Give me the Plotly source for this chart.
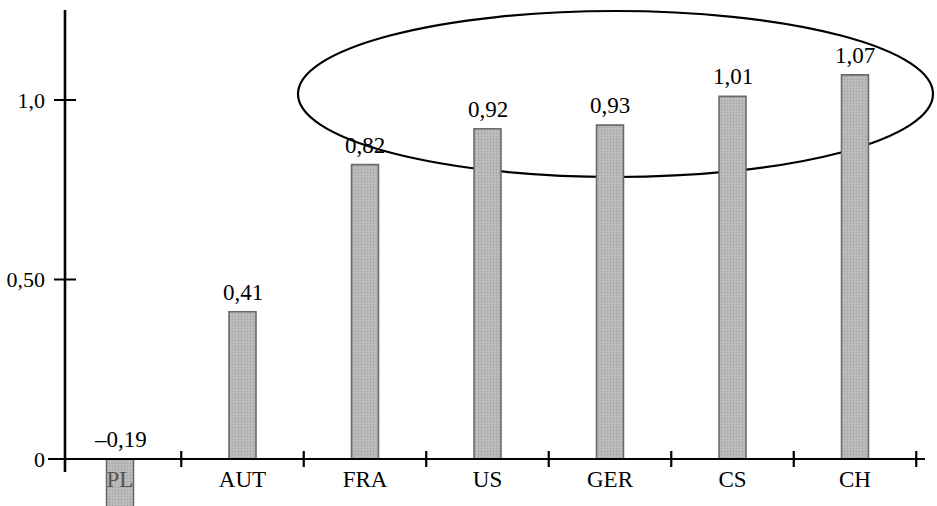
import plotly.graph_objects as go

categories = ["PL", "AUT", "FRA", "US", "GER", "CS", "CH"]
values = [-0.19, 0.41, 0.82, 0.92, 0.93, 1.01, 1.07]
y_tick_vals = [0, 0.5, 1.0]
y_tick_text = ["0", "0,50", "1,0"]

W, H = 937, 506
# layout geometry (pixels)
cx0, step = 120.0, 122.5          # centre of first category, category pitch
y0_px, unit_px = 459.0, 359.0     # pixel of value 0, pixels per unit
yaxis_px = 65.0

x_range = [-cx0 / step, (W - cx0) / step]
y_range = [-(H - y0_px) / unit_px, y0_px / unit_px]
xpos_y = yaxis_px / W
ypos_x = -y_range[0] / (y_range[1] - y_range[0])

FONT = "Liberation Serif, Times New Roman, serif"
idx = list(range(len(categories)))

fig = go.Figure()
fig.add_trace(go.Bar(
    x=idx, y=values, width=0.22,
    marker=dict(
        color="#b8b8b8",
        line=dict(color="#6a6a6a", width=1.6),
        pattern=dict(shape=".", fgcolor="#888888", bgcolor="#c0c0c0", size=3, solidity=0.35),
    ),
    hoverinfo="skip",
))

def fmt(v):
    s = f"{abs(v):.2f}".replace(".", ",")
    return ("–" + s) if v < 0 else s

annotations = []
for i, v in zip(idx, values):
    annotations.append(dict(
        x=i, y=max(v, 0), xref="x", yref="y", text=fmt(v), showarrow=False,
        yanchor="bottom", yshift=5, font=dict(family=FONT, size=23, color="black"),
    ))

tick_text = [
    (f'<span style="color:#555555">{c}</span>' if v < 0 else c)
    for c, v in zip(categories, values)
]

shapes = []
# x axis line
shapes.append(dict(type="line", xref="paper", yref="y", x0=48 / W, x1=925 / W, y0=0, y1=0,
                   line=dict(color="black", width=2.2), layer="above"))
# y axis line
shapes.append(dict(type="line", xref="paper", yref="y", x0=xpos_y, x1=xpos_y,
                   y0=-13 / unit_px, y1=(y0_px - 10) / unit_px,
                   line=dict(color="black", width=2.6), layer="above"))
# x ticks at category boundaries
for i in idx:
    b = i + 0.5
    shapes.append(dict(type="line", xref="x", yref="y", ysizemode="pixel", yanchor=0,
                       x0=b, x1=b, y0=-8, y1=8, line=dict(color="black", width=2.2), layer="above"))
# y ticks
for t in y_tick_vals:
    shapes.append(dict(type="line", xref="paper", yref="y", xsizemode="pixel", xanchor=xpos_y,
                       x0=-11, x1=11, y0=t, y1=t, line=dict(color="black", width=2), layer="above"))
# highlight ellipse
shapes.append(dict(type="circle", xref="paper", yref="paper",
                   x0=298 / W, x1=933 / W, y0=1 - 177 / H, y1=1 - 11 / H,
                   line=dict(color="black", width=2.2), layer="below"))

fig.update_layout(
    width=W, height=H,
    margin=dict(l=0, r=0, t=0, b=0),
    paper_bgcolor="white", plot_bgcolor="white",
    showlegend=False,
    font=dict(family=FONT, size=22, color="black"),
    xaxis=dict(range=x_range, tickvals=idx, ticktext=tick_text, showgrid=False, zeroline=False,
               showline=False, ticks="", anchor="free", position=ypos_x, automargin=False,
               ticklabelstandoff=4, tickfont=dict(family=FONT, size=23, color="black")),
    yaxis=dict(range=y_range, tickvals=y_tick_vals, ticktext=y_tick_text, showgrid=False,
               zeroline=False, showline=False, ticks="", anchor="free", position=xpos_y,
               automargin=False, ticklabelstandoff=20,
               tickfont=dict(family=FONT, size=22, color="black")),
    shapes=shapes, annotations=annotations, bargap=0,
)

fig.write_html(
    "out.html",
    config={"displayModeBar": False, "staticPlot": True},
    post_script="document.body.style.margin='0';document.body.style.padding='0';"
                "document.documentElement.style.margin='0';",
)
